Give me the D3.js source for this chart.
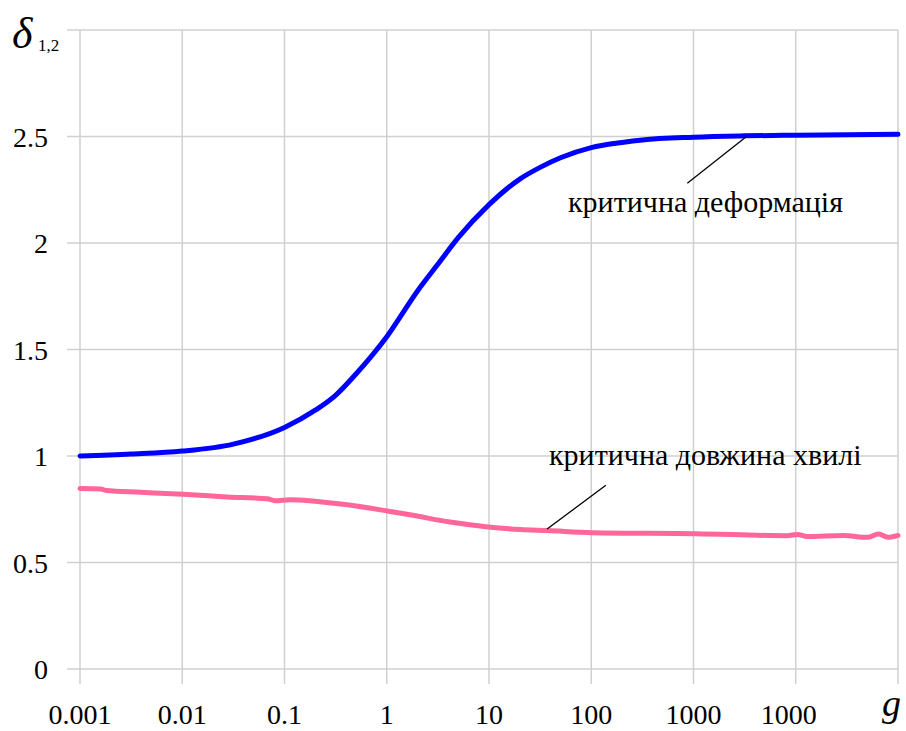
<!DOCTYPE html>
<html>
<head>
<meta charset="utf-8">
<script src="https://cdn.jsdelivr.net/npm/d3@7"></script>
<style>
  body { margin: 0; background: #fff; }
  text { font-family: "Liberation Serif", "Times New Roman", serif; }
</style>
</head>
<body>
<script>
// critical deformation (blue)
var defG = [0.001, 0.00316, 0.01, 0.0316, 0.1, 0.2, 0.316, 0.5, 1, 2, 3.16, 5, 10, 20, 31.6, 50, 100, 200, 316, 1000, 3162, 10000, 100000];
var defV = [1.00, 1.009, 1.023, 1.056, 1.134, 1.215, 1.285, 1.385, 1.56, 1.775, 1.90, 2.025, 2.18, 2.30, 2.355, 2.40, 2.448, 2.472, 2.484, 2.497, 2.503, 2.506, 2.51];

// critical wavelength (pink), slightly wobbly line
var waveG = [0.001, 0.0016, 0.0018, 0.0039, 0.0102, 0.0275, 0.068, 0.081, 0.113, 0.374, 1.01, 1.69, 4.17, 9.8, 20.2, 37.2, 102, 1042, 8280, 10400, 12900, 29200, 50100, 64600, 80500, 100000];
var waveV = [0.847, 0.845, 0.838, 0.83, 0.82, 0.808, 0.799, 0.79, 0.795, 0.773, 0.742, 0.724, 0.69, 0.667, 0.655, 0.65, 0.64, 0.635, 0.626, 0.632, 0.622, 0.627, 0.618, 0.634, 0.618, 0.627];

var xTicks = [0.001, 0.01, 0.1, 1, 10, 100, 1000, 10000, 100000];
var xLabels = ["0.001", "0.01", "0.1", "1", "10", "100", "1000", "10000", ""];
var yTicks = [0, 0.5, 1, 1.5, 2, 2.5, 3];
var yLabels = ["0", "0.5", "1", "1.5", "2", "2.5", ""];

// labels with their leader lines: [g, value] from, [g, value] to
var notes = [
  { text: "критична деформація", from: [870, 2.28], to: [3300, 2.5], tx: 568, ty: 212 },
  { text: "критична довжина хвилі", from: [37, 0.657], to: [139, 0.863], tx: 549, ty: 465 }
];

(function() {
var W = 906, H = 731;
var mLeft = 80, mRight = 898, mTop = 30, mBottom = 669;

var svg = d3.select("body").append("svg")
    .attr("width", W).attr("height", H);

var x = d3.scaleLog().domain([0.001, 100000]).range([mLeft, mRight]);
var y = d3.scaleLinear().domain([0, 3]).range([mBottom, mTop]);

var gridColor = "#d0d0d0";

// horizontal grid with little tick stubs on the left
svg.append("g").selectAll("line").data(yTicks).enter().append("line")
    .attr("x1", mLeft - 13).attr("x2", mRight)
    .attr("y1", function(d) { return y(d); })
    .attr("y2", function(d) { return y(d); })
    .attr("stroke", gridColor).attr("stroke-width", 1.5);

// vertical grid, stubs below the axis
svg.append("g").selectAll("line").data(xTicks).enter().append("line")
    .attr("x1", function(d) { return x(d); })
    .attr("x2", function(d) { return x(d); })
    .attr("y1", mTop).attr("y2", mBottom + 15)
    .attr("stroke", gridColor).attr("stroke-width", 1.5);

svg.append("g").selectAll("text").data(yTicks).enter().append("text")
    .attr("x", 48)
    .attr("y", function(d) { return y(d) + 10; })
    .attr("text-anchor", "end")
    .attr("font-size", 28)
    .text(function(d, i) { return yLabels[i]; });

// the 10000 label is cut off by the g box in the original
svg.append("clipPath").attr("id", "lblclip")
  .append("rect").attr("x", 0).attr("y", 680).attr("width", 816).attr("height", 60);

svg.append("g").attr("clip-path", "url(#lblclip)")
  .selectAll("text").data(xTicks).enter().append("text")
    .attr("x", function(d) { return x(d); })
    .attr("y", 724)
    .attr("text-anchor", "middle")
    .attr("font-size", 28)
    .text(function(d, i) { return xLabels[i]; });

var line = d3.line()
    .x(function(d) { return x(d[0]); })
    .y(function(d) { return y(d[1]); })
    .curve(d3.curveMonotoneX);

svg.append("path")
    .datum(d3.zip(waveG, waveV))
    .attr("d", line)
    .attr("fill", "none")
    .attr("stroke", "#ff6699")
    .attr("stroke-width", 5)
    .attr("stroke-linecap", "round");

svg.append("path")
    .datum(d3.zip(defG, defV))
    .attr("d", line)
    .attr("fill", "none")
    .attr("stroke", "#0000ff")
    .attr("stroke-width", 5)
    .attr("stroke-linecap", "round");

notes.forEach(function(n) {
  svg.append("line")
      .attr("x1", x(n.from[0])).attr("y1", y(n.from[1]))
      .attr("x2", x(n.to[0])).attr("y2", y(n.to[1]))
      .attr("stroke", "#000").attr("stroke-width", 1.3);
  svg.append("text")
      .attr("x", n.tx).attr("y", n.ty)
      .attr("font-size", 30)
      .text(n.text);
});

// axis titles
svg.append("text")
    .attr("x", 12).attr("y", 48)
    .attr("font-size", 44)
    .attr("font-style", "italic")
    .text("δ");
svg.append("text")
    .attr("x", 38).attr("y", 51)
    .attr("font-size", 17)
    .text("1,2");
svg.append("text")
    .attr("x", 882).attr("y", 716)
    .attr("font-size", 38)
    .attr("font-style", "italic")
    .text("g");
})();
</script>
</body>
</html>
